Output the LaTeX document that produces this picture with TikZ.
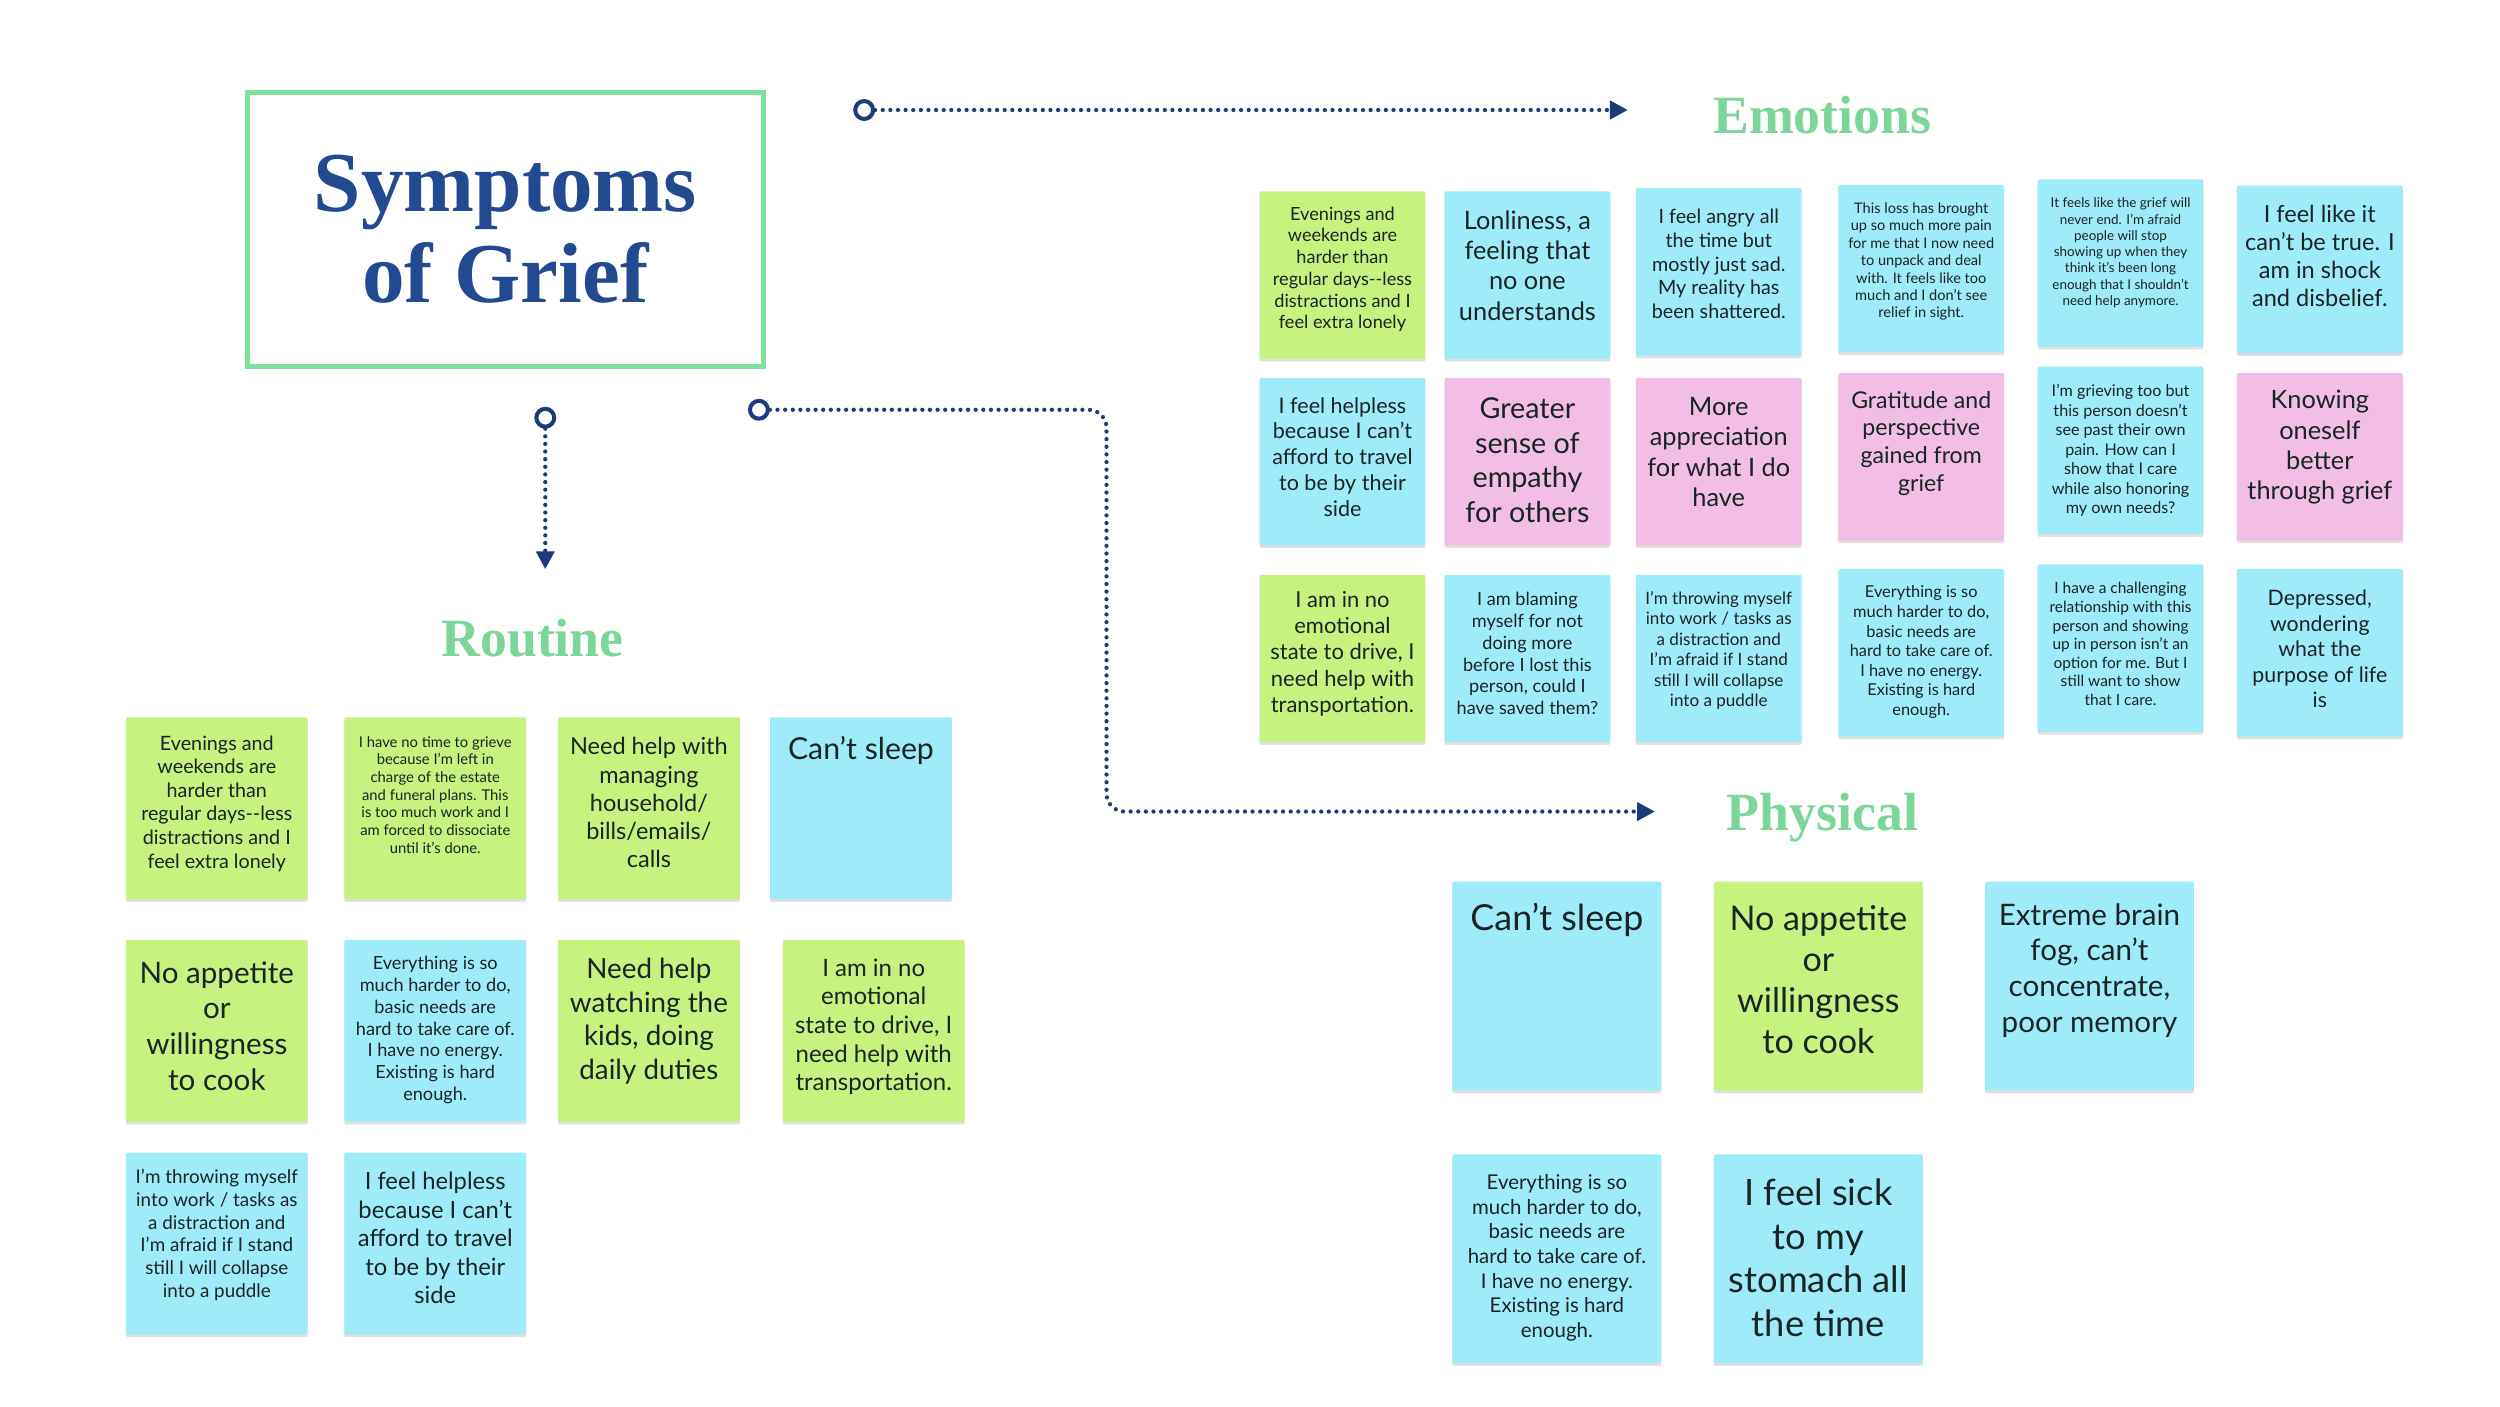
\documentclass[tikz,border=0pt]{standalone}
\usepackage{fontspec}
\setmainfont{Lato}
\newfontfamily\headfont{Liberation Serif}
\usetikzlibrary{arrows.meta,shadows}
\definecolor{stgreen}{HTML}{C6F27F}
\definecolor{stblue}{HTML}{A0EBFA}
\definecolor{stpink}{HTML}{F2BEE6}
\definecolor{navy}{HTML}{1E3A78}
\definecolor{headgreen}{HTML}{7CD69A}
\definecolor{titleblue}{HTML}{234A91}
\definecolor{framegreen}{HTML}{7EE19B}
\definecolor{ink}{HTML}{1A2424}
\newcommand\fsz[2]{\fontsize{#1}{#2}\selectfont}
\newcommand\stxt[5]{\node[txt,font=\fsz{#3}{#4}] (#1) at (#2) {#5};}
\begin{document}
\begin{tikzpicture}[x=0.025cm,y=-0.025cm,
  sticky/.style={rectangle, inner sep=0pt, rounded corners=0.6pt,
    drop shadow={shadow xshift=0pt, shadow yshift=-1.2pt, opacity=0.12, fill=black}},
  gnote/.style={sticky, fill=stgreen},
  bnote/.style={sticky, fill=stblue},
  pnote/.style={sticky, fill=stpink},
  esz/.style={minimum width=2.6cm, minimum height=2.625cm},
  rsz/.style={minimum width=2.85cm, minimum height=2.85cm},
  psz/.style={minimum width=3.275cm, minimum height=3.275cm},
  txt/.style={align=center, text=ink, inner sep=0pt},
  head/.style={font=\headfont\bfseries\fontsize{24}{28}\selectfont, text=headgreen},
  conn/.style={navy, line width=1.9pt, line cap=round, dash pattern=on 0pt off 3.4pt,
    -{Triangle[length=8pt,width=8pt]}},
  hole/.style={circle, draw=navy, line width=1.8pt, fill=white, minimum size=0.28cm, inner sep=0pt}
]
\fill[white] (0,0) rectangle (1568,882);
\useasboundingbox (0,0) rectangle (1568,882);

% title
\node[draw=framegreen, line width=2.2pt, minimum width=8.1cm, minimum height=4.3cm,
  align=center, font=\headfont\bfseries\fontsize{38}{40.5}\selectfont, text=titleblue]
  (title) at (317,144) {Symptoms\\of Grief};

% headings
\node[head] (emo) at (1143,72) {Emotions};
\node[head] (rou) at (334,400) {Routine};
\node[head] (phy) at (1143,513) {Physical};

% connectors
\node[hole] (h1) at (542,69) {};
\coordinate (t1) at (1021,69);
\draw[conn] (h1) -- (t1);
\node[hole] (h2) at (342,262) {};
\coordinate (t2) at (342,357);
\draw[conn] (h2) -- (t2);
\node[hole] (h3) at (476,257) {};
\coordinate (k3) at (694,509);
\coordinate (t3) at (1038,509);
\draw[conn, rounded corners=8pt] (h3) -| (k3) -- (t3);

% Emotions row 1
\node[gnote,esz] (e11) at (842,172.5) {};
\stxt{e11t}{842,169}{8.1}{9.7}{Evenings and\\weekends are\\harder than\\regular days{-}{-}less\\distractions and I\\feel extra lonely}
\node[bnote,esz] (e12) at (958,172.5) {};
\stxt{e12t}{958,166.5}{11.3}{13.5}{Lonliness, a\\feeling that\\no one\\understands}
\node[bnote,esz] (e13) at (1078,170.5) {};
\stxt{e13t}{1078,165.5}{8.8}{10.5}{I feel angry all\\the time but\\mostly just sad.\\My reality has\\been shattered.}
\node[bnote,esz] (e14) at (1205,168.5) {};
\stxt{e14t}{1205,164}{6.5}{7.8}{This loss has brought\\up so much more pain\\for me that I now need\\to unpack and deal\\with. It feels like too\\much and I don't see\\relief in sight.}
\node[bnote,esz] (e15) at (1330,165) {};
\stxt{e15t}{1330,158.5}{6.0}{7.25}{It feels like the grief will\\never end. I'm afraid\\people will stop\\showing up when they\\think it's been long\\enough that I shouldn't\\need help anymore.}
\node[bnote,esz] (e16) at (1455,169) {};
\stxt{e16t}{1455,160.5}{10.5}{12.6}{I feel like it\\can't be true. I\\am in shock\\and disbelief.}

% Emotions row 2
\node[bnote,esz] (e21) at (842,289.5) {};
\stxt{e21t}{842,286.5}{9.6}{11.5}{I feel helpless\\because I can't\\afford to travel\\to be by their\\side}
\node[pnote,esz] (e22) at (958,289.5) {};
\stxt{e22t}{958,288.5}{12.8}{15.4}{Greater\\sense of\\empathy\\for others}
\node[pnote,esz] (e23) at (1078,289.5) {};
\stxt{e23t}{1078,283.5}{11.3}{13.5}{More\\appreciation\\for what I do\\have}
\node[pnote,esz] (e24) at (1205,286.5) {};
\stxt{e24t}{1205,278}{10.3}{12.3}{Gratitude and\\perspective\\gained from\\grief}
\node[bnote,esz] (e25) at (1330,282.5) {};
\stxt{e25t}{1330,282.5}{7.2}{8.7}{I'm grieving too but\\this person doesn't\\see past their own\\pain. How can I\\show that I care\\while also honoring\\my own needs?}
\node[pnote,esz] (e26) at (1455,286.5) {};
\stxt{e26t}{1455,280.5}{11.3}{13.5}{Knowing\\oneself\\better\\through grief}

% Emotions row 3
\node[gnote,esz] (e31) at (842,413) {};
\stxt{e31t}{842,410}{9.8}{11.7}{I am in no\\emotional\\state to drive, I\\need help with\\transportation.}
\node[bnote,esz] (e32) at (958,413) {};
\stxt{e32t}{958,410}{8.1}{9.7}{I am blaming\\myself for not\\doing more\\before I lost this\\person, could I\\have saved them?}
\node[bnote,esz] (e33) at (1078,413) {};
\stxt{e33t}{1078,408}{7.6}{9.1}{I'm throwing myself\\into work / tasks as\\a distraction and\\I'm afraid if I stand\\still I will collapse\\into a puddle}
\node[bnote,esz] (e34) at (1205,409.5) {};
\stxt{e34t}{1205,409}{7.3}{8.75}{Everything is so\\much harder to do,\\basic needs are\\hard to take care of.\\I have no energy.\\Existing is hard\\enough.}
\node[bnote,esz] (e35) at (1330,406.5) {};
\stxt{e35t}{1330,404}{6.9}{8.3}{I have a challenging\\relationship with this\\person and showing\\up in person isn't an\\option for me. But I\\still want to show\\that I care.}
\node[bnote,esz] (e36) at (1455,409.5) {};
\stxt{e36t}{1455,407}{9.5}{11.4}{Depressed,\\wondering\\what the\\purpose of life\\is}

% Routine
\node[gnote,rsz] (r11) at (136,507) {};
\stxt{r11t}{136,504}{8.8}{10.5}{Evenings and\\weekends are\\harder than\\regular days{-}{-}less\\distractions and I\\feel extra lonely}
\node[gnote,rsz] (r12) at (273,507) {};
\stxt{r12t}{273,498.5}{6.6}{7.9}{I have no time to grieve\\because I'm left in\\charge of the estate\\and funeral plans. This\\is too much work and I\\am forced to dissociate\\until it's done.}
\node[gnote,rsz] (r13) at (407,507) {};
\stxt{r13t}{407,503.5}{10.5}{12.6}{Need help with\\managing\\household/\\bills/emails/\\calls}
\node[bnote,rsz] (r14) at (540,507) {};
\stxt{r14t}{540,471}{13.5}{16}{Can't sleep}
\node[gnote,rsz] (r21) at (136,646.5) {};
\stxt{r21t}{136,643.5}{13.2}{15.9}{No appetite\\or\\willingness\\to cook}
\node[bnote,rsz] (r22) at (273,646.5) {};
\stxt{r22t}{273,646}{8.1}{9.7}{Everything is so\\much harder to do,\\basic needs are\\hard to take care of.\\I have no energy.\\Existing is hard\\enough.}
\node[gnote,rsz] (r23) at (407,646.5) {};
\stxt{r23t}{407,640.5}{12.4}{14.9}{Need help\\watching the\\kids, doing\\daily duties}
\node[gnote,rsz] (r24) at (548,646.5) {};
\stxt{r24t}{548,644}{10.7}{12.8}{I am in no\\emotional\\state to drive, I\\need help with\\transportation.}
\node[bnote,rsz] (r31) at (136,780) {};
\stxt{r31t}{136,774.5}{8.4}{10.1}{I'm throwing myself\\into work / tasks as\\a distraction and\\I'm afraid if I stand\\still I will collapse\\into a puddle}
\node[bnote,rsz] (r32) at (273,780) {};
\stxt{r32t}{273,776.5}{10.6}{12.7}{I feel helpless\\because I can't\\afford to travel\\to be by their\\side}

% Physical
\node[bnote,psz] (p1) at (976.5,618.5) {};
\stxt{p1t}{976.5,577}{16}{19}{Can't sleep}
\node[gnote,psz] (p2) at (1140.5,618.5) {};
\stxt{p2t}{1140.5,614.5}{15.2}{18.3}{No appetite\\or\\willingness\\to cook}
\node[bnote,psz] (p3) at (1310.5,618.5) {};
\stxt{p3t}{1310.5,608.5}{13.2}{15.9}{Extreme brain\\fog, can't\\concentrate,\\poor memory}
\node[bnote,psz] (p4) at (976.5,789.5) {};
\stxt{p4t}{976.5,789}{9.1}{11}{Everything is so\\much harder to do,\\basic needs are\\hard to take care of.\\I have no energy.\\Existing is hard\\enough.}
\node[bnote,psz] (p5) at (1140.5,789.5) {};
\stxt{p5t}{1140.5,789}{16.2}{19.4}{I feel sick\\to my\\stomach all\\the time}
\end{tikzpicture}
\end{document}
